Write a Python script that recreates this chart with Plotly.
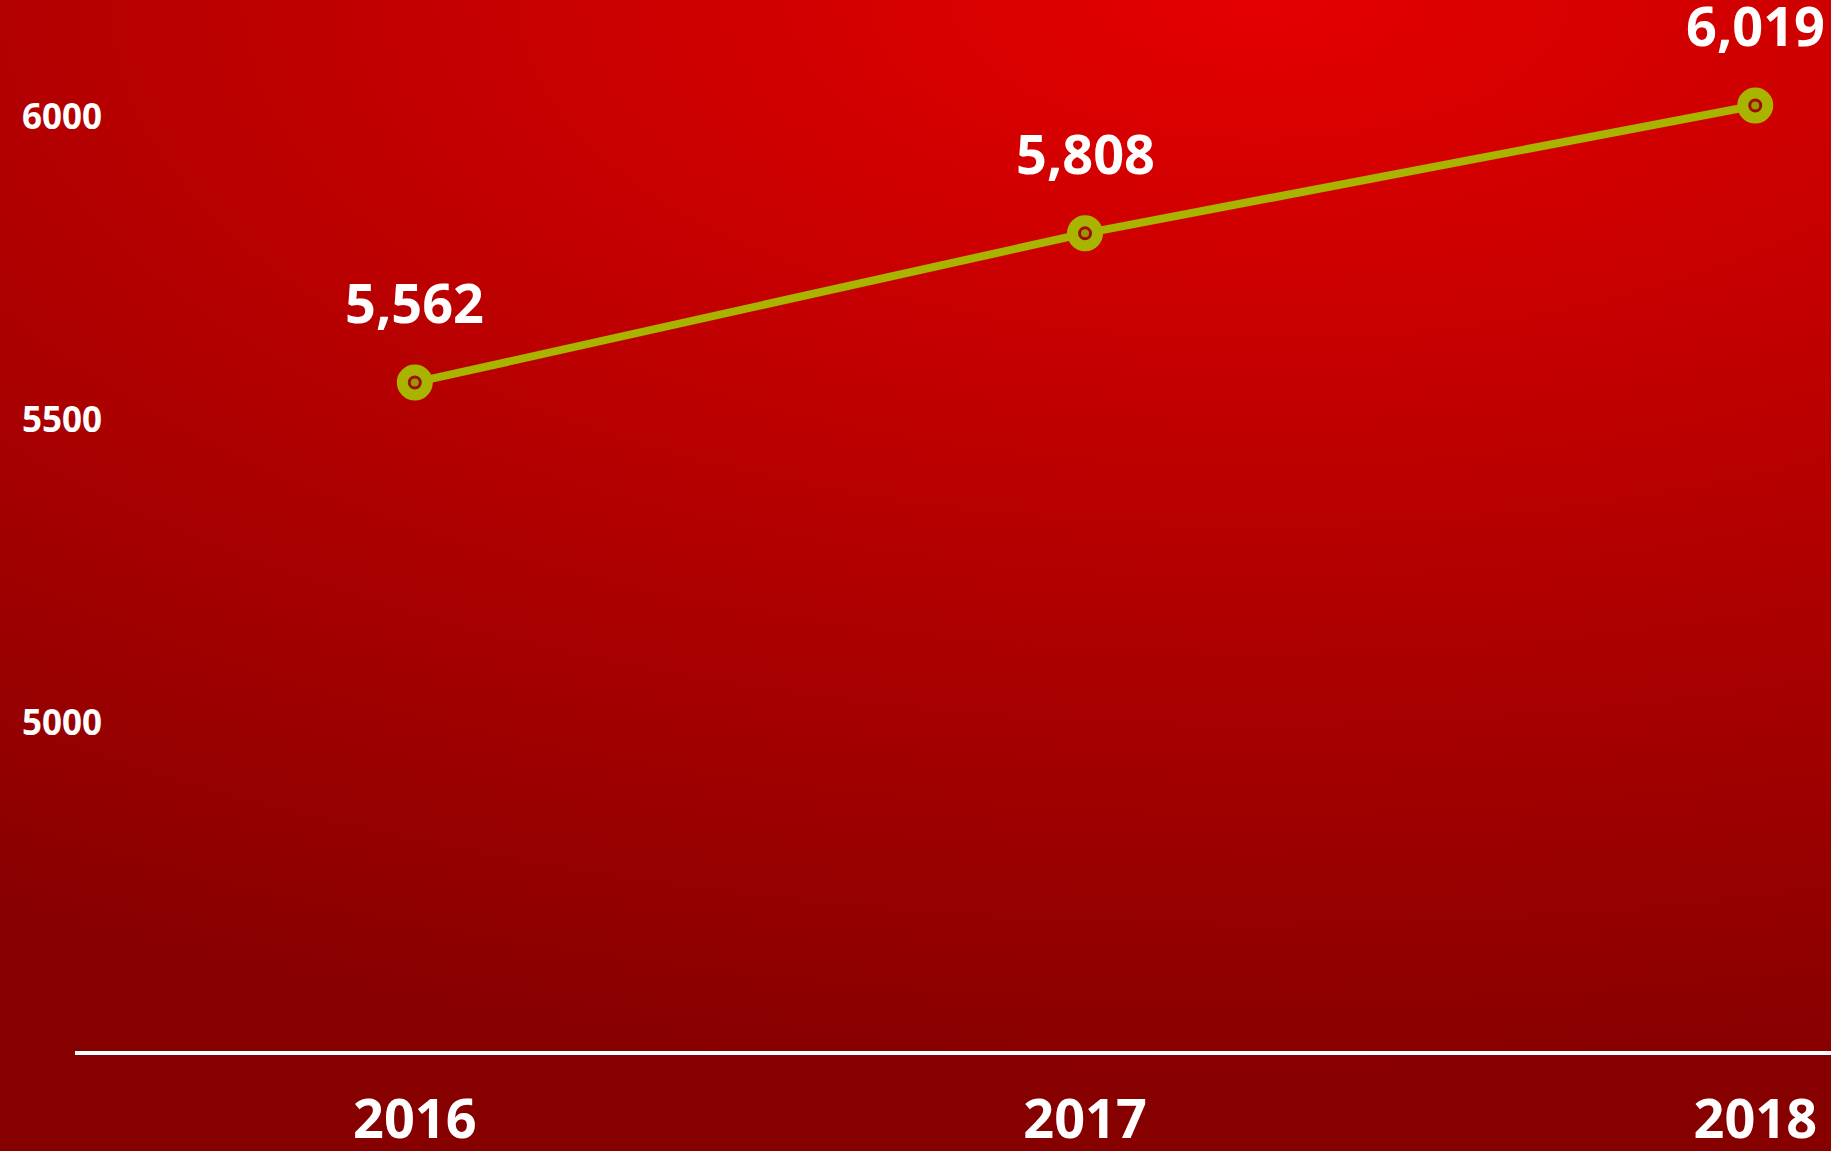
import base64
import plotly.graph_objects as go

# ---- data ----
years = ["2016", "2017", "2018"]
values = [5562, 5808, 6019]
value_labels = ["5,562", "5,808", "6,019"]
y_ticks = [5000, 5500, 6000]
y_tick_labels = ["5000", "5500", "6000"]

W, H = 1831, 1151
ML, MR, MT, MB = 75, 0, 0, 100

LINE_COLOR = "#a9b400"
FONT = "Open Sans"

# background gradient as an svg data uri
svg = (
    f'<svg xmlns="http://www.w3.org/2000/svg" width="{W}" height="{H}" '
    f'viewBox="0 0 {W} {H}" preserveAspectRatio="none"><defs>'
    '<radialGradient id="g" gradientUnits="userSpaceOnUse" cx="0" cy="0" r="1" '
    'gradientTransform="translate(1260 0) scale(2400 1100)">'
    '<stop offset="0" stop-color="#e40000"/>'
    '<stop offset="1" stop-color="#860000"/>'
    '</radialGradient></defs>'
    f'<rect width="{W}" height="{H}" fill="url(#g)"/></svg>'
)
bg_uri = "data:image/svg+xml;base64," + base64.b64encode(svg.encode()).decode()

pw = W - ML - MR
ph = H - MT - MB

fig = go.Figure()

# main line with ring markers
fig.add_trace(go.Scatter(
    x=years, y=values, mode="lines+markers",
    line=dict(color=LINE_COLOR, width=8),
    marker=dict(symbol="circle", size=25, color="#a00c00",
                line=dict(color=LINE_COLOR, width=11)),
    hoverinfo="skip", showlegend=False, cliponaxis=False,
))
# inner dots
fig.add_trace(go.Scatter(
    x=years, y=values, mode="markers",
    marker=dict(symbol="circle", size=8, color="#9c9600"),
    hoverinfo="skip", showlegend=False, cliponaxis=False,
))

# value labels (category axis -> use category index)
for i, (v, lab) in enumerate(zip(values, value_labels)):
    fig.add_annotation(
        x=i, y=v, xref="x", yref="y", text=lab, showarrow=False, yshift=80,
        font=dict(family=FONT, size=54, color="white", weight=700),
        xanchor="center", yanchor="middle",
    )

fig.update_layout(
    width=W, height=H,
    margin=dict(l=ML, r=MR, t=MT, b=MB, pad=0, autoexpand=False),
    paper_bgcolor="#a00000",
    plot_bgcolor="rgba(0,0,0,0)",
    images=[dict(
        source=bg_uri, xref="paper", yref="paper",
        x=-ML / pw, y=1 + MT / ph, sizex=W / pw, sizey=H / ph,
        xanchor="left", yanchor="top", sizing="stretch", layer="below",
    )],
    xaxis=dict(
        type="category", categoryorder="array", categoryarray=years,
        range=[-0.507, 2.113], automargin=False,
        showgrid=False, zeroline=False,
        showline=True, linecolor="white", linewidth=4,
        ticks="", ticklabelstandoff=18,
        tickfont=dict(family=FONT, size=54, color="white", weight=700),
        fixedrange=True,
    ),
    yaxis=dict(
        range=[4459, 6193], automargin=False,
        tickvals=y_ticks, ticktext=y_tick_labels,
        showgrid=False, zeroline=False, showline=False,
        ticks="", ticklabelstandoff=-28,
        tickfont=dict(family=FONT, size=35, color="white", weight=700),
        fixedrange=True,
    ),
    hovermode=False,
)

fig.write_html("out.html", config={"displayModeBar": False})
